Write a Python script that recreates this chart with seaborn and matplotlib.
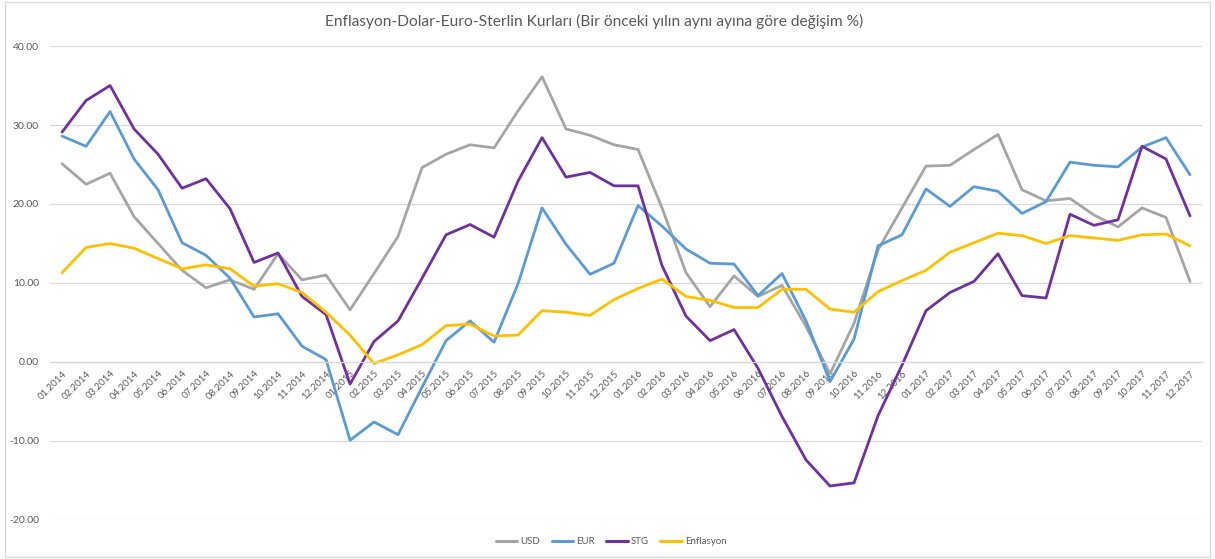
import numpy as np
import pandas as pd
import matplotlib
matplotlib.use("Agg")
import matplotlib.pyplot as plt
import seaborn as sns
from matplotlib.patches import Rectangle
from matplotlib.ticker import FixedLocator, FuncFormatter

# ── Data ─────────────────────────────────────────────────────────────────────
MONTHS = [f"{m:02d}.{y}" for y in (2014, 2015, 2016, 2017) for m in range(1, 13)]

USD = [25.1, 22.5, 23.9, 18.4, 15.0, 11.6, 9.4, 10.4, 9.2, 13.7, 10.4, 11.0,
       6.6, 11.2, 15.9, 24.6, 26.3, 27.5, 27.1, 31.8, 36.1, 29.5, 28.7, 27.5,
       26.9, 19.5, 11.3, 7.0, 10.9, 8.3, 9.7, 4.5, -1.5, 4.9, 14.2, 19.5,
       24.8, 24.9, 26.9, 28.8, 21.8, 20.4, 20.7, 18.6, 17.1, 19.5, 18.3, 10.2]

EUR = [28.6, 27.3, 31.7, 25.7, 21.8, 15.1, 13.5, 10.6, 5.7, 6.1, 2.0, 0.3,
       -9.9, -7.6, -9.2, -3.2, 2.7, 5.2, 2.5, 9.9, 19.5, 14.9, 11.1, 12.5,
       19.8, 17.2, 14.3, 12.5, 12.4, 8.4, 11.2, 5.2, -2.5, 2.9, 14.7, 16.1,
       21.9, 19.7, 22.2, 21.6, 18.8, 20.3, 25.3, 24.9, 24.7, 27.2, 28.4, 23.7]

STG = [29.1, 33.1, 35.0, 29.5, 26.3, 22.0, 23.2, 19.4, 12.6, 13.8, 8.3, 6.0,
       -2.8, 2.6, 5.2, 10.6, 16.1, 17.4, 15.8, 22.9, 28.4, 23.4, 24.0, 22.3,
       22.3, 12.2, 5.8, 2.7, 4.1, -0.8, -6.9, -12.4, -15.7, -15.3, -6.8, -0.4,
       6.5, 8.8, 10.2, 13.7, 8.4, 8.1, 18.7, 17.3, 18.0, 27.3, 25.7, 18.5]

ENF = [11.3, 14.5, 15.0, 14.4, 13.1, 11.8, 12.3, 11.8, 9.6, 9.9, 8.8, 6.3,
       3.4, -0.2, 0.9, 2.2, 4.6, 4.8, 3.3, 3.4, 6.5, 6.3, 5.9, 7.9,
       9.3, 10.5, 8.3, 7.8, 6.9, 6.9, 9.2, 9.2, 6.7, 6.3, 8.9, 10.3,
       11.6, 13.9, 15.1, 16.3, 16.0, 15.0, 16.0, 15.7, 15.4, 16.1, 16.2, 14.7]

SERIES = ["USD", "EUR", "STG", "Enflasyon"]
COLORS = {"USD": "#A5A5A5", "EUR": "#5B9BD5", "STG": "#7030A0", "Enflasyon": "#FFC000"}
YTICKS = [-20, -10, 0, 10, 20, 30, 40]
TITLE = "Enflasyon-Dolar-Euro-Sterlin Kurları (Bir önceki yılın aynı ayına göre değişim %)"

df = pd.DataFrame({"idx": np.arange(len(MONTHS)), "month": MONTHS,
                   "USD": USD, "EUR": EUR, "STG": STG, "Enflasyon": ENF})
long = df.melt(id_vars=["idx", "month"], value_vars=SERIES,
               var_name="series", value_name="value")

# ── Plot ──────────────────────────────────────────────────────────────────────
sns.set_theme(style="white")
plt.rcParams["font.family"] = ["Lato", "DejaVu Sans"]

TXT = "#595959"
GRID = "#D9D9D9"

fig = plt.figure(figsize=(12.15, 5.59), dpi=100)
ax = fig.add_axes([0.0412, 0.0698, 0.9481, 0.8479])

sns.lineplot(data=long, x="idx", y="value", hue="series", hue_order=SERIES,
             palette=COLORS, linewidth=2.0, ax=ax, legend=False)

ax.set_xlim(-0.5, len(MONTHS) - 0.5)
ax.set_ylim(-20, 40)
ax.set_yticks(YTICKS)
ax.yaxis.set_major_formatter(FuncFormatter(lambda v, _: f"{v:.2f}"))
ax.yaxis.grid(True, color=GRID, linewidth=0.9)
ax.set_axisbelow(True)

for s in ["top", "right", "left"]:
    ax.spines[s].set_visible(False)
ax.spines["bottom"].set_position(("data", 0))
ax.spines["bottom"].set_color(GRID)
ax.spines["bottom"].set_linewidth(0.9)

ax.set_xticks(df["idx"])
ax.set_xticklabels(MONTHS, rotation=45, ha="right", va="top",
                   rotation_mode="anchor", fontsize=7, color=TXT)
ax.xaxis.set_minor_locator(FixedLocator(np.arange(-0.5, len(MONTHS), 1.0)))
ax.tick_params(axis="x", which="major", length=0, pad=5)
ax.tick_params(axis="x", which="minor", length=4, color=GRID, width=0.9,
               direction="out")
ax.tick_params(axis="y", length=0, pad=8, labelsize=7.5, labelcolor=TXT)
ax.set_xlabel("")
ax.set_ylabel("")

fig.text(0.489, 0.962, TITLE, ha="center", va="center", fontsize=11.2, color=TXT)

handles = [plt.Line2D([0], [0], color=COLORS[s], lw=2.2) for s in SERIES]
fig.legend(handles, SERIES, loc="center", bbox_to_anchor=(0.503, 0.031),
           ncol=4, frameon=False, fontsize=7, labelcolor=TXT,
           handlelength=2.2, handletextpad=0.3, columnspacing=1.2)

fig.patches.append(Rectangle((0.004, 0.003), 0.992, 0.993, transform=fig.transFigure,
                             fill=False, edgecolor=GRID, linewidth=1.0))

fig.savefig("out.png", dpi=100)
